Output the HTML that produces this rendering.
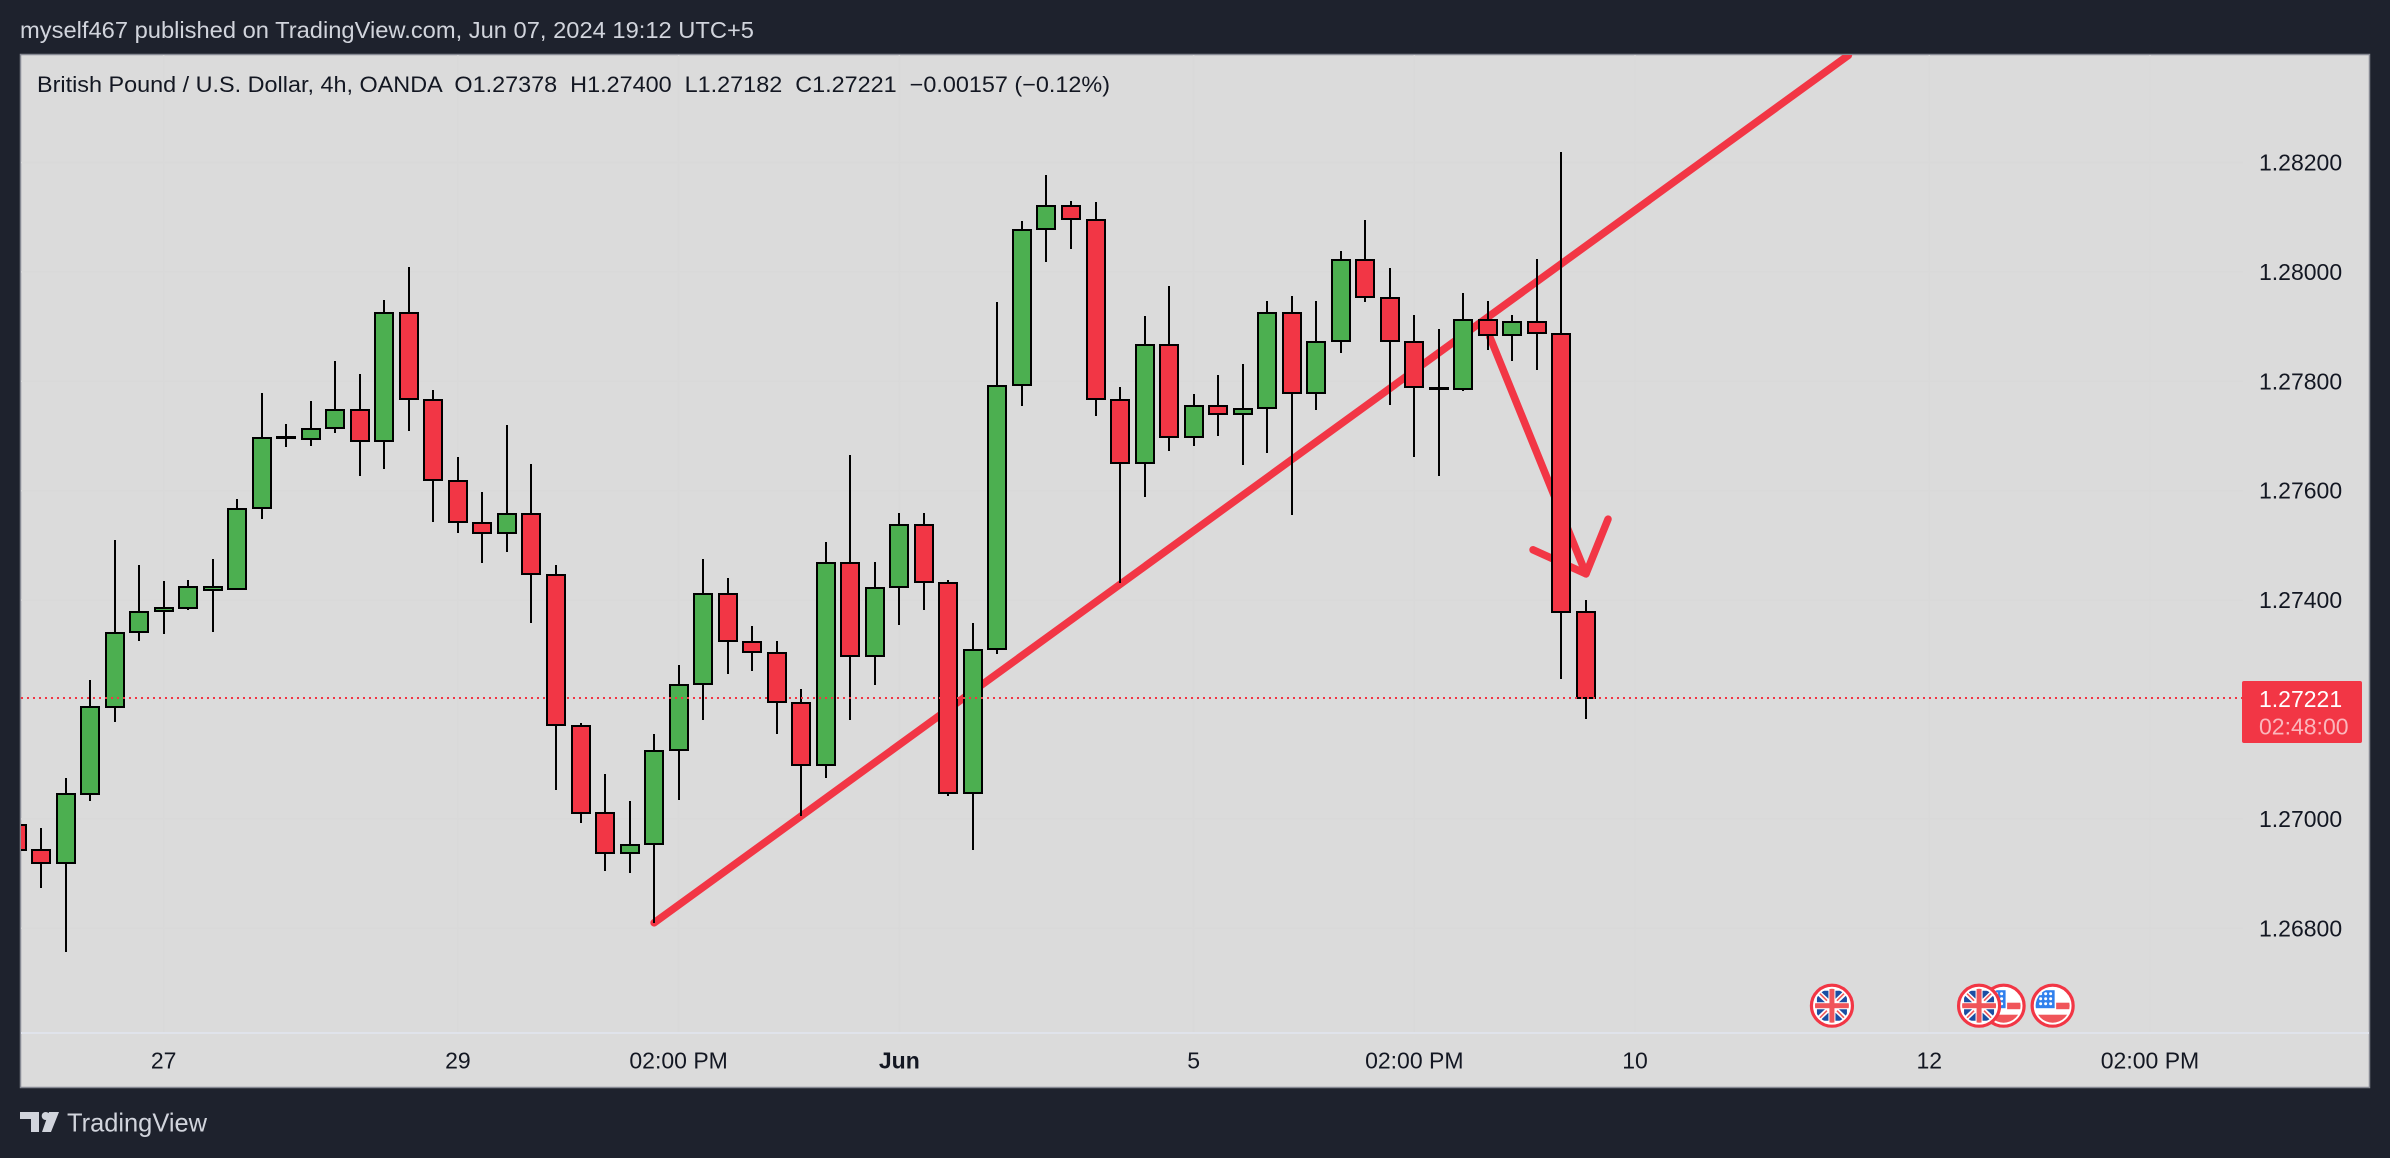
<!DOCTYPE html>
<html lang="en">
<head>
<meta charset="utf-8">
<title>GBP/USD 4h chart</title>
<style>
html,body{margin:0;padding:0;background:#1e222d;width:2390px;height:1158px;overflow:hidden}
svg{display:block;font-family:"Liberation Sans",sans-serif}
text{white-space:pre}
</style>
</head>
<body>
<svg id="root" xmlns="http://www.w3.org/2000/svg" width="2390" height="1158" viewBox="0 0 2390 1158">
  <defs>
    <clipPath id="plot-clip"><rect x="21" y="55" width="2348" height="977"/></clipPath>
    <clipPath id="flag-clip"><circle cx="0" cy="0" r="17"/></clipPath>
  </defs>
  <rect x="0" y="0" width="2390" height="1158" fill="#1e222d"/>
  <text x="20" y="38" font-size="23" fill="#d1d4dc" textLength="734" lengthAdjust="spacingAndGlyphs">myself467 published on TradingView.com, Jun 07, 2024 19:12 UTC+5</text>
  <rect x="20.5" y="54.5" width="2349" height="1033" fill="#dbdbdb" stroke="#868993" stroke-width="1.5"/>
  <g id="grid"></g>
  <rect x="21" y="1032" width="2348" height="2" fill="#e0e3eb"/>
  <g clip-path="url(#plot-clip)">
    <g id="drawings"></g>
    <g id="candles"></g>
    <g id="last-line"></g>
  </g>
  <text x="37" y="92" font-size="22" fill="#131722" textLength="1073" lengthAdjust="spacingAndGlyphs">British Pound / U.S. Dollar, 4h, OANDA  O1.27378  H1.27400  L1.27182  C1.27221  −0.00157 (−0.12%)</text>
  <g id="price-axis"></g>
  <g id="time-axis"></g>
  <g id="events"></g>
  <g>
    <path d="M20 1112H39V1132H31V1119H20Z" fill="#d1d4dc"/>
    <circle cx="45.7" cy="1116" r="4" fill="#d1d4dc"/>
    <path d="M49 1112H59L51 1132H42Z" fill="#d1d4dc"/>
    <text x="67" y="1131.5" font-size="26" fill="#d1d4dc" textLength="140" lengthAdjust="spacingAndGlyphs">TradingView</text>
  </g>
</svg>
<script>
const opens = [1.26988,1.26944,1.26919,1.27046,1.27205,1.27341,1.27380,1.27385,1.27419,1.27420,1.27568,1.27697,1.27694,1.27714,1.27748,1.27690,1.27924,1.27766,1.27618,1.27541,1.27522,1.27558,1.27446,1.27170,1.27010,1.26937,1.26954,1.27126,1.27246,1.27412,1.27324,1.27304,1.27212,1.27099,1.27467,1.27298,1.27424,1.27538,1.27432,1.27047,1.27310,1.27793,1.28078,1.28121,1.28095,1.27766,1.27651,1.27867,1.27698,1.27755,1.27741,1.27751,1.27924,1.27779,1.27873,1.28022,1.27953,1.27872,1.27787,1.27786,1.27912,1.27885,1.27909,1.27886,1.27378];
const highs = [1.26995,1.26983,1.27074,1.27254,1.27510,1.27464,1.27435,1.27437,1.27475,1.27585,1.27778,1.27722,1.27764,1.27837,1.27813,1.27949,1.28009,1.27784,1.27662,1.27598,1.27720,1.27649,1.27464,1.27175,1.27082,1.27033,1.27155,1.27281,1.27475,1.27440,1.27352,1.27325,1.27237,1.27507,1.27665,1.27469,1.27560,1.27560,1.27436,1.27359,1.27945,1.28093,1.28177,1.28130,1.28128,1.27790,1.27919,1.27974,1.27777,1.27811,1.27832,1.27947,1.27956,1.27947,1.28038,1.28095,1.28007,1.27921,1.27896,1.27961,1.27947,1.27921,1.28024,1.28219,1.27400];
const lows = [1.26930,1.26874,1.26757,1.27033,1.27178,1.27326,1.27338,1.27382,1.27342,1.27419,1.27549,1.27679,1.27682,1.27706,1.27627,1.27640,1.27710,1.27543,1.27523,1.27468,1.27488,1.27359,1.27052,1.26993,1.26905,1.26902,1.26810,1.27035,1.27180,1.27264,1.27271,1.27155,1.27006,1.27075,1.27180,1.27245,1.27355,1.27381,1.27042,1.26944,1.27302,1.27755,1.28019,1.28041,1.27737,1.27431,1.27589,1.27673,1.27682,1.27700,1.27647,1.27669,1.27556,1.27748,1.27852,1.27945,1.27757,1.27662,1.27626,1.27782,1.27858,1.27837,1.27821,1.27255,1.27182];
const closes = [1.26944,1.26919,1.27046,1.27205,1.27340,1.27379,1.27385,1.27424,1.27424,1.27567,1.27697,1.27698,1.27713,1.27748,1.27690,1.27924,1.27768,1.27620,1.27542,1.27522,1.27558,1.27448,1.27172,1.27010,1.26937,1.26953,1.27125,1.27245,1.27412,1.27325,1.27305,1.27214,1.27099,1.27467,1.27298,1.27423,1.27538,1.27433,1.27047,1.27309,1.27791,1.28077,1.28121,1.28097,1.27768,1.27651,1.27867,1.27698,1.27755,1.27741,1.27750,1.27924,1.27779,1.27872,1.28022,1.27954,1.27874,1.27790,1.27788,1.27912,1.27885,1.27909,1.27888,1.27379,1.27221];
const priceTicks = [1.282,1.28,1.278,1.276,1.274,1.27,1.268];
const timeTickLabels = ["27","29","02:00 PM","Jun","5","02:00 PM","10","12","02:00 PM"];
const timeTickBars = [6,18,27,36,48,57,66,78,87];
const trendBars = [26,74.7];
const trendPrices = [1.2681,1.28396];
const arrowShaftBars = [60.08,64];
const arrowShaftPrices = [1.27881,1.27448];
const arrowHeadBars = [61.84,64,64.9];
const arrowHeadPrices = [1.27492,1.27448,1.27548];
const lastPrice = 1.27221;
const lastPriceLabel = "1.27221";
const countdownLabel = "02:48:00";
const eventBars = [74.03,80.03,81.03,83.03];
const eventKinds = ["uk","uk","us","us"];
const eventDrawOrder = [0,2,1,3];

const NS = "http://www.w3.org/2000/svg";
const RED = "#f23645", GREEN = "#4caf50", INK = "#000000";
function xAxis(bar){ return 16.5 + 24.523 * bar; }
function yAxis(price){ return 818.9 - (price - 1.27) * 54700; }
function make(tag, attrs, parent){
  const el = document.createElementNS(NS, tag);
  for (const k in attrs) el.setAttribute(k, attrs[k]);
  parent.appendChild(el);
  return el;
}
const grid = document.getElementById("grid");
const candlesLayer = document.getElementById("candles");
const drawings = document.getElementById("drawings");
const lastLayer = document.getElementById("last-line");
const priceAxis = document.getElementById("price-axis");
const timeAxis = document.getElementById("time-axis");
const eventsLayer = document.getElementById("events");

priceTicks.forEach(function(p){
  const g = make("line",{x1:21,x2:2243,y1:yAxis(p),y2:yAxis(p),stroke:"#d9d9d9","stroke-width":1.5},grid);
  
  
  const t = make("text",{x:2259,y:yAxis(p)+8,"font-size":23,fill:"#131722"},priceAxis);
  
  
  t.textContent = p.toFixed(5);
});
timeTickLabels.forEach(function(label,i){
  const x = xAxis(timeTickBars[i]);
  const g = make("line",{x1:x,x2:x,y1:55,y2:1032,stroke:"#d9d9d9","stroke-width":1.5},grid);
  
  
  const attrs = {x:x,y:1068.5,"font-size":23,fill:"#131722","text-anchor":"middle"};
  if (label === "Jun") attrs["font-weight"] = "bold";
  const t = make("text",attrs,timeAxis);
  
  
  t.textContent = label;
});

function polyPoints(bars, prices){
  return bars.map(function(b,i){ return xAxis(b)+","+yAxis(prices[i]); }).join(" ");
}
const trend = make("polyline",{points:polyPoints(trendBars,trendPrices),fill:"none",stroke:RED,"stroke-width":7.5,"stroke-linecap":"round"},drawings);


const shaft = make("polyline",{points:polyPoints(arrowShaftBars,arrowShaftPrices),fill:"none",stroke:RED,"stroke-width":7.5,"stroke-linecap":"round"},drawings);


const head = make("polyline",{points:polyPoints(arrowHeadBars,arrowHeadPrices),fill:"none",stroke:RED,"stroke-width":7.5,"stroke-linecap":"round","stroke-linejoin":"round"},drawings);



opens.forEach(function(o,i){
  const c = closes[i];
  const x = Math.round(xAxis(i));
  const top = Math.round(yAxis(Math.max(o,c)));
  const bottom = Math.round(yAxis(Math.min(o,c)));
  const g = make("g",{},candlesLayer);
  
  
  const wick = make("line",{x1:x,x2:x,y1:Math.round(yAxis(highs[i])),y2:Math.round(yAxis(lows[i])),stroke:INK,"stroke-width":2,"shape-rendering":"crispEdges"},g);
  
  
  const body = make("rect",{x:x-9,y:top,width:18,height:Math.max(bottom-top,1),fill:c>=o?GREEN:RED,stroke:INK,"stroke-width":2,"shape-rendering":"crispEdges"},g);
  
  
});

const lastY = yAxis(lastPrice);
const dotted = make("line",{x1:21,x2:2243,y1:lastY,y2:lastY,stroke:RED,"stroke-width":2,"stroke-dasharray":"2 4"},lastLayer);



const badge = make("rect",{x:2242,y:lastY-17,width:120,height:62,rx:2,fill:RED},priceAxis);


const badgePrice = make("text",{x:2259,y:lastY+9,"font-size":23,fill:"#ffffff"},priceAxis);


badgePrice.textContent = lastPriceLabel;
const badgeTimer = make("text",{x:2259,y:lastY+36.5,"font-size":23,fill:"#fbb6bc"},priceAxis);


badgeTimer.textContent = countdownLabel;

function drawUk(g){
  make("rect",{x:-18,y:-18,width:36,height:36,fill:"#ffffff"},g);
  [[-1,-1],[1,-1],[-1,1],[1,1]].forEach(function(s){
    make("polygon",{points:(s[0]*3.5)+","+(s[1]*15)+" "+(s[0]*12)+","+(s[1]*15)+" "+(s[0]*3.5)+","+(s[1]*7),fill:"#1b4ea3"},g);
    make("polygon",{points:(s[0]*15)+","+(s[1]*3.5)+" "+(s[0]*15)+","+(s[1]*11)+" "+(s[0]*7)+","+(s[1]*3.5),fill:"#1b4ea3"},g);
    make("line",{x1:s[0]*5,y1:s[1]*5,x2:s[0]*15,y2:s[1]*15,stroke:"#f05a5a","stroke-width":1.6},g);
  });
  make("rect",{x:-18,y:-2.5,width:36,height:5,fill:"#f0555a"},g);
  make("rect",{x:-2.5,y:-18,width:5,height:36,fill:"#f0555a"},g);
}
function drawUs(g){
  make("rect",{x:-18,y:-18,width:36,height:36,fill:"#ffffff"},g);
  make("rect",{x:3.5,y:-3,width:15,height:6.5,fill:"#f0555a"},g);
  make("rect",{x:-18,y:9,width:36,height:10,fill:"#f0555a"},g);
  make("rect",{x:-18,y:-15.5,width:20,height:18,fill:"#2f80ed"},g);
  [-12,-7,-2].forEach(function(yy){
    [-12,-7,-2].forEach(function(xx){
      make("circle",{cx:xx,cy:yy,r:1.5,fill:"#ffffff"},g);
    });
  });
}
eventDrawOrder.forEach(function(i){
  const g = make("g",{transform:"translate("+xAxis(eventBars[i])+",1005.7)"},eventsLayer);
  
  
  const ring = make("circle",{cx:0,cy:0,r:20.5,fill:"#ffffff",stroke:RED,"stroke-width":3.2},g);
  
  
  const inner = make("g",{"clip-path":"url(#flag-clip)"},g);
  
  
  if (eventKinds[i] === "uk") drawUk(inner); else drawUs(inner);
});
</script>
</body>
</html>
